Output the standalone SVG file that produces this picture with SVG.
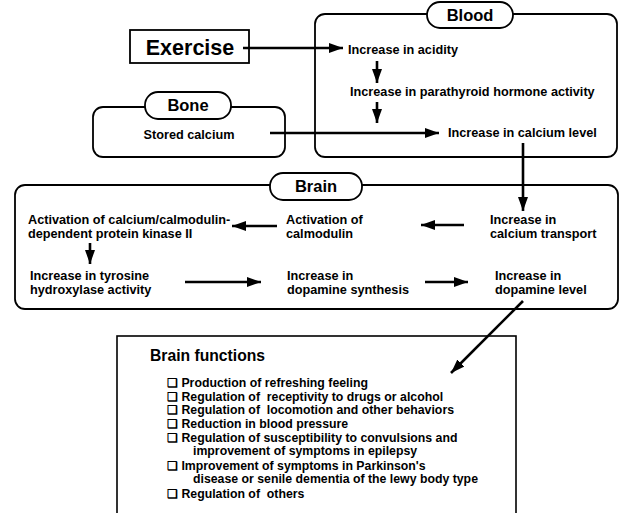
<svg xmlns="http://www.w3.org/2000/svg" width="620" height="513" viewBox="0 0 620 513">
<style>
text{font-family:"Liberation Sans",Arial,sans-serif;font-weight:bold;fill:#000;white-space:pre}
.box{fill:none;stroke:#000;stroke-width:1.8}
.pill{fill:#fff;stroke:#000;stroke-width:1.8}
.t{font-size:12.7px}
.lbl{font-size:16.5px}
.li{font-size:12.3px}
.ar{stroke:#000;stroke-width:2.6;fill:none;marker-end:url(#ah)}
</style>
<defs>
<marker id="ah" markerUnits="userSpaceOnUse" markerWidth="16" markerHeight="12" refX="14" refY="5" orient="auto">
<path d="M0,0 L14,5 L0,10 z" fill="#000"/>
</marker>
</defs>
<rect width="620" height="513" fill="#fff"/>

<g id="exercise">
<rect x="130" y="30" width="119" height="33" fill="#fff" stroke="#000" stroke-width="1.8"/>
<text x="190" y="55" font-size="21.5" text-anchor="middle">Exercise</text>
</g>

<g id="blood">
<rect class="box" x="315" y="14" width="302" height="143" rx="10"/>
<rect class="pill" x="427" y="2" width="86" height="26" rx="13"/>
<text class="lbl" x="470" y="21" text-anchor="middle">Blood</text>
<text class="t" x="348" y="54">Increase in acidity</text>
<text class="t" x="350" y="96">Increase in parathyroid hormone activity</text>
<text class="t" x="448" y="137">Increase in calcium level</text>
</g>

<g id="bone">
<rect class="box" x="93" y="107" width="192" height="50" rx="10"/>
<rect class="pill" x="145" y="92" width="86" height="27" rx="13"/>
<text class="lbl" x="188" y="111" text-anchor="middle">Bone</text>
<text class="t" x="189" y="139" text-anchor="middle">Stored calcium</text>
</g>

<g id="brain">
<rect class="box" x="15" y="185" width="603" height="124" rx="10"/>
<rect class="pill" x="270" y="173" width="92" height="27" rx="13"/>
<text class="lbl" x="316" y="192" text-anchor="middle">Brain</text>
<text class="t" x="28" y="224">Activation of calcium/calmodulin-<tspan x="28" dy="13.8">dependent protein kinase II</tspan></text>
<text class="t" x="286" y="224">Activation of<tspan x="286" dy="13.8">calmodulin</tspan></text>
<text class="t" x="490" y="224">Increase in<tspan x="490" dy="13.8">calcium transport</tspan></text>
<text class="t" x="30" y="280">Increase in tyrosine<tspan x="30" dy="13.8">hydroxylase activity</tspan></text>
<text class="t" x="287" y="280">Increase in<tspan x="287" dy="13.8">dopamine synthesis</tspan></text>
<text class="t" x="495" y="280">Increase in<tspan x="495" dy="13.8">dopamine level</tspan></text>
</g>

<g id="brain-functions">
<rect x="117" y="336" width="399" height="190" fill="none" stroke="#000" stroke-width="1.6"/>
<text x="150" y="361" font-size="15.7">Brain functions</text>
<g class="li">
<text x="167" y="387">❑ Production of refreshing feeling</text>
<text x="167" y="401">❑ Regulation of  receptivity to drugs or alcohol</text>
<text x="167" y="414">❑ Regulation of  locomotion and other behaviors</text>
<text x="167" y="428">❑ Reduction in blood pressure</text>
<text x="167" y="442">❑ Regulation of susceptibility to convulsions and<tspan x="193" dy="13">improvement of symptoms in epilepsy</tspan></text>
<text x="167" y="470">❑ Improvement of symptoms in Parkinson's<tspan x="193" dy="13">disease or senile dementia of the lewy body type</tspan></text>
<text x="167" y="498">❑ Regulation of  others</text>
</g>
</g>

<g id="connectors">
<line class="ar" x1="243" y1="48" x2="343" y2="48"/>
<line class="ar" x1="377" y1="61" x2="377" y2="83"/>
<line class="ar" x1="377" y1="102" x2="377" y2="123"/>
<line class="ar" x1="270" y1="133" x2="439" y2="133"/>
<line class="ar" x1="523" y1="143" x2="523" y2="211"/>
<line class="ar" x1="464" y1="225" x2="421" y2="225"/>
<line class="ar" x1="277" y1="226" x2="232" y2="226"/>
<line class="ar" x1="90" y1="243" x2="90" y2="264"/>
<line class="ar" x1="185" y1="282" x2="261" y2="282"/>
<line class="ar" x1="425" y1="282" x2="468" y2="282"/>
<line class="ar" x1="523" y1="301" x2="451" y2="373"/>
</g>
</svg>
